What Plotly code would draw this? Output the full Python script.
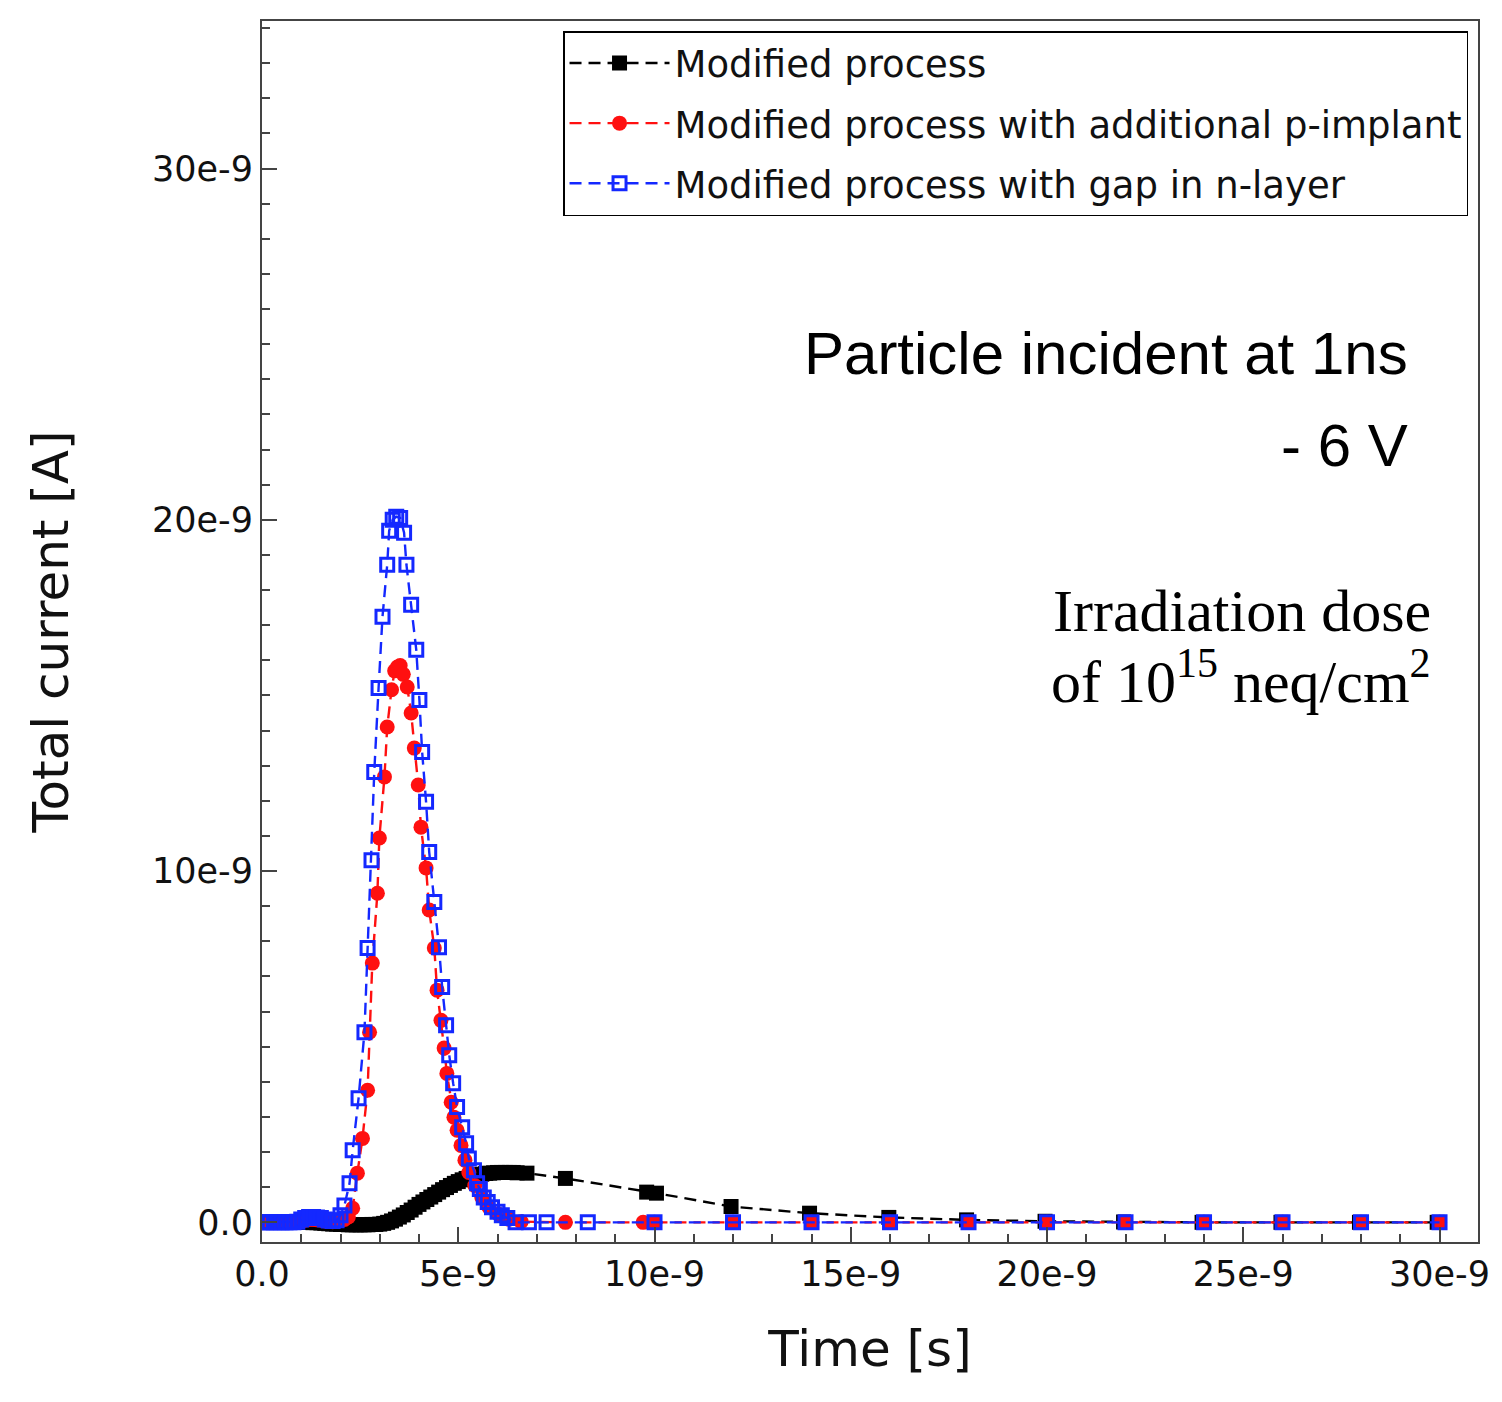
import plotly.graph_objects as go

# ---------------- data (time in ns, current in nA) ----------------
t_black = [0.0, 0.1, 0.2, 0.3, 0.4, 0.5, 0.6, 0.7, 0.8, 0.9,
           1.0, 1.1, 1.2, 1.3, 1.4, 1.5, 1.6, 1.7, 1.8, 1.9,
           2.0, 2.1, 2.2, 2.3, 2.4, 2.5, 2.6, 2.7, 2.8, 2.9,
           3.0, 3.1, 3.2, 3.3, 3.4, 3.5, 3.6, 3.7, 3.8, 3.9,
           4.0, 4.1, 4.2, 4.3, 4.4, 4.5, 4.6, 4.7, 4.8, 4.9,
           5.0, 5.1, 5.2, 5.3, 5.4, 5.5, 5.6, 5.7, 5.8, 5.9,
           6.0, 6.1, 6.2, 6.3, 6.4, 6.5, 6.75, 7.73, 9.8, 10.05,
           11.95, 13.95, 15.97, 17.95, 19.95, 21.95, 23.95, 25.96, 27.96, 29.94]
i_black = [0.0, 0.0, 0.0, 0.0, 0.0, 0.0, 0.0, 0.0, 0.0, 0.0,
           0.0, 0.0, 0.0, -0.01, -0.01, -0.02, -0.03, -0.04, -0.05, -0.05,
           -0.06, -0.06, -0.07, -0.07, -0.07, -0.07, -0.07, -0.07, -0.06, -0.06,
           -0.05, -0.03, 0.0, 0.04, 0.09, 0.15, 0.21, 0.28, 0.35, 0.43,
           0.51, 0.58, 0.65, 0.72, 0.79, 0.86, 0.93, 0.99, 1.05, 1.11,
           1.16, 1.21, 1.25, 1.29, 1.32, 1.35, 1.37, 1.39, 1.40, 1.41,
           1.42, 1.42, 1.42, 1.42, 1.42, 1.41, 1.40, 1.25, 0.86, 0.83,
           0.45, 0.26, 0.14, 0.07, 0.03, 0.01, 0.0, 0.0, 0.0, 0.0]

t_red = [0.0, 0.1, 0.2, 0.3, 0.4, 0.5, 0.6, 0.7, 0.8, 0.9,
         1.0, 1.1, 1.2, 1.3, 1.4, 1.5, 1.6, 1.7, 1.8, 1.9,
         2.0, 2.1, 2.2, 2.31, 2.43, 2.56, 2.69, 2.74, 2.81, 2.94,
         2.99, 3.12, 3.19, 3.30, 3.38, 3.45, 3.52, 3.60, 3.70, 3.80,
         3.88, 3.98, 4.05, 4.18, 4.26, 4.39, 4.46, 4.56, 4.64, 4.71,
         4.82, 4.89, 4.97, 5.07, 5.17, 5.27, 5.42, 5.60, 5.78, 6.03,
         6.29, 6.6, 7.73, 9.71, 10.0, 12.0, 14.0, 16.0, 18.0, 20.0,
         22.0, 24.0, 26.0, 28.0, 30.0]
i_red = [0.0, 0.0, 0.0, 0.0, 0.0, 0.0, 0.0, 0.0, 0.0, 0.0,
         0.04, 0.06, 0.08, 0.08, 0.07, 0.06, 0.04, 0.03, 0.02, 0.03,
         0.05, 0.08, 0.15, 0.40, 1.40, 2.39, 3.76, 5.41, 7.38, 9.37,
         10.94, 12.68, 14.10, 15.16, 15.70, 15.81, 15.85, 15.60, 15.24, 14.50,
         13.50, 12.45, 11.25, 10.09, 8.89, 7.81, 6.61, 5.75, 4.96, 4.24,
         3.42, 2.99, 2.62, 2.19, 1.77, 1.42, 1.05, 0.71, 0.43, 0.23,
         0.09, 0.02, 0.0, 0.0, 0.0, 0.0, 0.0, 0.0, 0.0, 0.0,
         0.0, 0.0, 0.0, 0.0, 0.0]

t_blue = [0.0, 0.1, 0.2, 0.3, 0.4, 0.5, 0.6, 0.7, 0.8, 0.9,
          1.0, 1.1, 1.2, 1.3, 1.4, 1.5, 1.6, 1.7, 1.8, 1.9,
          2.0, 2.1, 2.23, 2.31, 2.46, 2.61, 2.69, 2.79, 2.86, 2.97,
          3.07, 3.19, 3.24, 3.33, 3.42, 3.52, 3.62, 3.68, 3.80, 3.93,
          4.01, 4.08, 4.18, 4.26, 4.39, 4.51, 4.59, 4.69, 4.77, 4.87,
          4.97, 5.10, 5.20, 5.27, 5.40, 5.48, 5.55, 5.65, 5.75, 5.86,
          6.0, 6.11, 6.25, 6.46, 6.8, 7.25, 8.3, 10.0, 12.0, 14.0,
          16.0, 18.0, 20.0, 22.0, 24.0, 26.0, 28.0, 30.0]
i_blue = [0.0, 0.0, 0.0, 0.0, 0.0, 0.0, 0.0, 0.0, 0.0, 0.02,
          0.08, 0.12, 0.15, 0.15, 0.14, 0.12, 0.08, 0.05, 0.04, 0.06,
          0.20, 0.48, 1.11, 2.05, 3.53, 5.41, 7.81, 10.31, 12.82, 15.21,
          17.24, 18.72, 19.69, 20.00, 20.09, 20.05, 19.63, 18.72, 17.58, 16.30,
          14.87, 13.39, 11.97, 10.54, 9.12, 7.83, 6.70, 5.61, 4.76, 3.96,
          3.28, 2.71, 2.25, 1.82, 1.48, 1.11, 0.95, 0.71, 0.58, 0.43,
          0.30, 0.20, 0.12, 0.0, 0.0, 0.0, 0.0, 0.0, 0.0, 0.0,
          0.0, 0.0, 0.0, 0.0, 0.0, 0.0, 0.0, 0.0]

series_names = ["Modified process",
                "Modified process with additional p-implant",
                "Modified process with gap in n-layer"]

x_tick_vals_ns = [0, 5, 10, 15, 20, 25, 30]
x_tick_text = ["0.0", "5e-9", "10e-9", "15e-9", "20e-9", "25e-9", "30e-9"]
y_tick_vals_na = [0, 10, 20, 30]
y_tick_text = ["0.0", "10e-9", "20e-9", "30e-9"]

NS = 1e-9
NA = 1e-9

fig = go.Figure()

dash = "12px,7px"
fig.add_trace(go.Scatter(
    x=[t * NS for t in t_black], y=[v * NA for v in i_black],
    mode="lines+markers", name=series_names[0], legendgroup="a",
    line=dict(color="black", width=2.4, dash=dash),
    marker=dict(symbol="square", size=15, color="black")))
fig.add_trace(go.Scatter(
    x=[t * NS for t in t_red], y=[v * NA for v in i_red],
    mode="lines+markers", name=series_names[1], legendgroup="b",
    line=dict(color="#ff1010", width=2.4, dash=dash),
    marker=dict(symbol="circle", size=15, color="#ff1010")))
fig.add_trace(go.Scatter(
    x=[t * NS for t in t_blue], y=[v * NA for v in i_blue],
    mode="lines+markers", name=series_names[2], legendgroup="c",
    line=dict(color="#1428ff", width=2.4, dash=dash),
    marker=dict(symbol="square-open", size=13, color="#1428ff",
                line=dict(width=3, color="#1428ff"))))

axis_common = dict(
    showline=True, linewidth=2, linecolor="#444", mirror=True,
    ticks="inside", ticklen=15, tickwidth=2, tickcolor="#444",
    showgrid=False, zeroline=False,
    tickfont=dict(family="DejaVu Sans", size=35, color="#111"),
)

fig.update_layout(
    width=1502, height=1402,
    margin=dict(l=262, r=18, t=21, b=160),
    paper_bgcolor="white", plot_bgcolor="white",
    font=dict(family="DejaVu Sans", color="#111"),
    xaxis=dict(
        range=[0, 30.98 * NS],
        tickmode="array", tickvals=[v * NS for v in x_tick_vals_ns], ticktext=x_tick_text,
        minor=dict(tickmode="linear", tick0=0, dtick=1 * NS, ticks="inside",
                   ticklen=8, tickwidth=2, tickcolor="#444"),
        title=dict(text="Time [s]", font=dict(family="DejaVu Sans", size=50, color="#111"),
                   standoff=38),
        **axis_common),
    yaxis=dict(
        range=[-0.56 * NA, 34.2 * NA],
        tickmode="array", tickvals=[v * NA for v in y_tick_vals_na], ticktext=y_tick_text,
        minor=dict(tickmode="linear", tick0=0, dtick=1 * NA, ticks="inside",
                   ticklen=8, tickwidth=2, tickcolor="#444"),
        title=dict(text="Total current [A]", font=dict(family="DejaVu Sans", size=50, color="#111"),
                   standoff=68),
        **axis_common),
    legend=dict(
        x=0.9918, y=0.9918, xanchor="right", yanchor="top",
        bgcolor="white", bordercolor="black", borderwidth=1.5,
        font=dict(family="DejaVu Sans", size=37, color="#111"),
        itemwidth=100, tracegroupgap=9,
    ),
    showlegend=True,
)

fig.add_annotation(xref="paper", yref="paper", x=0.9444, y=0.728,
                   xanchor="right", yanchor="middle", showarrow=False,
                   text="Particle incident at 1ns",
                   font=dict(family="Liberation Sans", size=60, color="black"))
fig.add_annotation(xref="paper", yref="paper", x=0.9444, y=0.6527,
                   xanchor="right", yanchor="middle", showarrow=False,
                   text="- 6 V",
                   font=dict(family="Liberation Sans", size=60, color="black"))
fig.add_annotation(xref="paper", yref="paper", x=0.963, y=0.517,
                   xanchor="right", yanchor="middle", showarrow=False,
                   text="Irradiation dose",
                   font=dict(family="Liberation Serif", size=60, color="black"))
fig.add_annotation(xref="paper", yref="paper", x=0.963, y=0.462,
                   xanchor="right", yanchor="middle", showarrow=False,
                   text="of 10<sup>15</sup> neq/cm<sup>2</sup>",
                   font=dict(family="Liberation Serif", size=60, color="black"))

fig.write_html("out.html")
